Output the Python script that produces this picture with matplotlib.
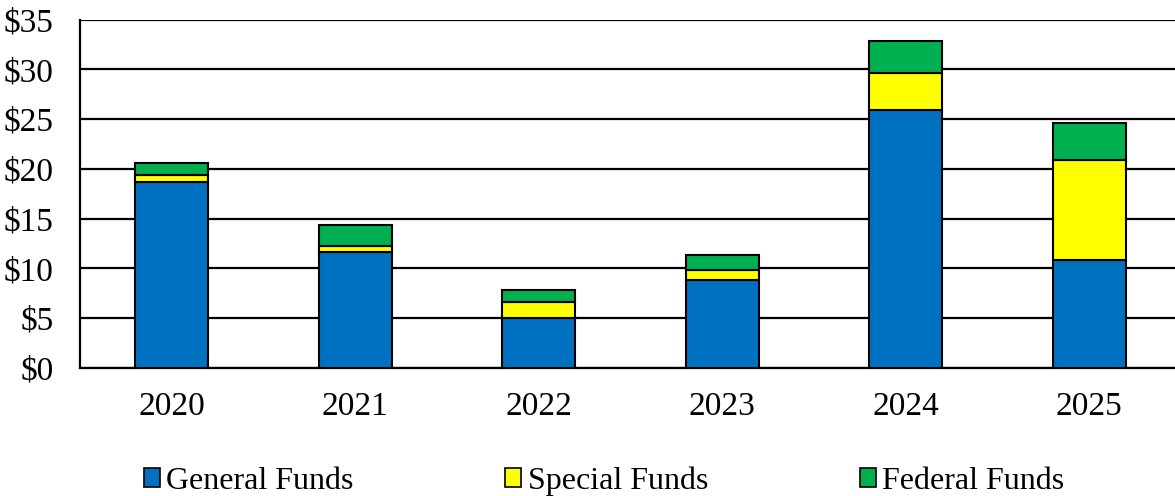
import numpy as np
import matplotlib
matplotlib.use('Agg')
import matplotlib.pyplot as plt
import matplotlib.patches as mpatches

plt.rcParams['font.family'] = ['Liberation Serif', 'DejaVu Serif']

years   = ['2020', '2021', '2022', '2023', '2024', '2025']
general = [18.7, 11.6, 5.0, 8.8, 25.9, 10.8]
special = [0.7, 0.66, 1.6, 1.04, 3.7, 10.04]
federal = [1.2, 2.09, 1.28, 1.51, 3.2, 3.72]

c_gen, c_spe, c_fed = '#0070C0', '#FFFF00', '#00B050'

fig = plt.figure(figsize=(11.75, 4.96), dpi=100)
ax = fig.add_axes([80/1175, 1 - 368/496, 1 - 80/1175, (368 - 19.5)/496])

x = np.arange(len(years))
w = 0.4
gen = np.array(general)
spe = np.array(special)
fed = np.array(federal)

ax.bar(x, gen, w, color=c_gen, edgecolor='black', linewidth=1.5, zorder=3)
ax.bar(x, spe, w, bottom=gen, color=c_spe, edgecolor='black', linewidth=1.5, zorder=3)
ax.bar(x, fed, w, bottom=gen + spe, color=c_fed, edgecolor='black', linewidth=1.5, zorder=3)

ax.set_xlim(-0.5, 5.467)
ax.set_ylim(0, 35)
ax.set_yticks(range(0, 36, 5))
ax.set_yticklabels([f'${v}' for v in range(0, 36, 5)], fontsize=24)
ax.set_xticks(x)
ax.set_xticklabels(years, fontsize=24)
ax.tick_params(axis='y', length=0, pad=19)
ax.tick_params(axis='x', length=0, pad=17)
ax.grid(axis='y', color='black', linewidth=1.6, zorder=0)
for s in ['top', 'right']:
    ax.spines[s].set_visible(False)
for s in ['left', 'bottom']:
    ax.spines[s].set_linewidth(1.6)

handles = [mpatches.Patch(facecolor=c, edgecolor='black', linewidth=1.2, label=l)
           for c, l in [(c_gen, 'General Funds'), (c_spe, 'Special Funds'), (c_fed, 'Federal Funds')]]
fig.legend(handles=handles, loc='center', bbox_to_anchor=(0.514, 0.030), ncol=3,
           frameon=False, fontsize=23, handlelength=0.5, handleheight=0.5,
           handletextpad=0.2, columnspacing=4.75)

plt.savefig('out.png', dpi=100)
